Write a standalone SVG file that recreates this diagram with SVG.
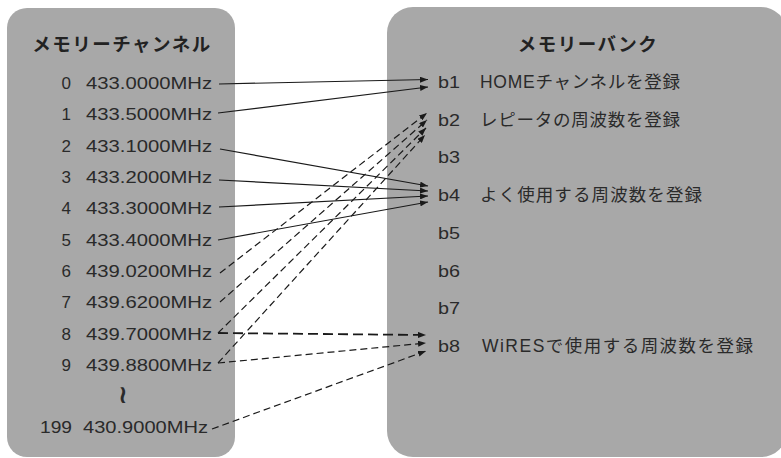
<svg xmlns="http://www.w3.org/2000/svg" width="781" height="458" viewBox="0 0 781 458">
<defs>
<style>
.panel{fill:#a8a8a8}
.title{font-family:"Liberation Sans","Noto Sans CJK JP",sans-serif;font-weight:bold;font-size:18.5px;fill:#222;letter-spacing:1.5px}
.t{font-family:"Liberation Sans","Noto Sans CJK JP",sans-serif;font-size:17px;fill:#2a2a2a}
.d{font-size:17.5px}
.num{text-anchor:end}
.ln{fill:none;stroke:#1a1a1a;stroke-width:1.2;marker-end:url(#ah)}
.ds{stroke-dasharray:7 4}
.dsb{stroke-dasharray:10 5;stroke-width:1.8}
</style>
<marker id="ah" markerUnits="userSpaceOnUse" markerWidth="9" markerHeight="6" refX="8" refY="3" orient="auto">
<path d="M0,0 L8,3 L0,6 z" fill="#1a1a1a"/>
</marker>
</defs>
<g id="channels">
<rect class="panel" x="7" y="8" width="228" height="449" rx="20" ry="20"/>
<text class="title" x="122" y="51" text-anchor="middle">メモリーチャンネル</text>
<g class="t">
<text class="num" x="71" y="89">0</text><text x="86" y="89" textLength="126" lengthAdjust="spacingAndGlyphs">433.0000MHz</text>
<text class="num" x="71" y="120.3">1</text><text x="86" y="120.3" textLength="126" lengthAdjust="spacingAndGlyphs">433.5000MHz</text>
<text class="num" x="71" y="151.7">2</text><text x="86" y="151.7" textLength="126" lengthAdjust="spacingAndGlyphs">433.1000MHz</text>
<text class="num" x="71" y="183">3</text><text x="86" y="183" textLength="126" lengthAdjust="spacingAndGlyphs">433.2000MHz</text>
<text class="num" x="71" y="214.3">4</text><text x="86" y="214.3" textLength="126" lengthAdjust="spacingAndGlyphs">433.3000MHz</text>
<text class="num" x="71" y="245.7">5</text><text x="86" y="245.7" textLength="126" lengthAdjust="spacingAndGlyphs">433.4000MHz</text>
<text class="num" x="71" y="277">6</text><text x="86" y="277" textLength="126" lengthAdjust="spacingAndGlyphs">439.0200MHz</text>
<text class="num" x="71" y="308.3">7</text><text x="86" y="308.3" textLength="126" lengthAdjust="spacingAndGlyphs">439.6200MHz</text>
<text class="num" x="71" y="339.7">8</text><text x="86" y="339.7" textLength="126" lengthAdjust="spacingAndGlyphs">439.7000MHz</text>
<text class="num" x="71" y="371">9</text><text x="86" y="371" textLength="126" lengthAdjust="spacingAndGlyphs">439.8800MHz</text>
<text x="123" y="403" text-anchor="middle" style="font-family:'DejaVu Sans',sans-serif;font-size:25px;font-weight:bold">≀</text>
<text x="40" y="433" textLength="32" lengthAdjust="spacingAndGlyphs">199</text><text x="83" y="433" textLength="125" lengthAdjust="spacingAndGlyphs">430.9000MHz</text>
</g>
</g>
<g id="banks">
<rect class="panel" x="387" y="7" width="400" height="450" rx="26" ry="26"/>
<text class="title" x="588" y="51" text-anchor="middle">メモリーバンク</text>
<g class="t">
<text x="438" y="88" textLength="22" lengthAdjust="spacingAndGlyphs">b1</text><text class="d" x="480" y="88" textLength="200" lengthAdjust="spacing">HOMEチャンネルを登録</text>
<text x="438" y="126" textLength="22" lengthAdjust="spacingAndGlyphs">b2</text><text class="d" x="480" y="126" textLength="200" lengthAdjust="spacing">レピータの周波数を登録</text>
<text x="438" y="163" textLength="22" lengthAdjust="spacingAndGlyphs">b3</text>
<text x="438" y="201" textLength="22" lengthAdjust="spacingAndGlyphs">b4</text><text class="d" x="480" y="201" textLength="222" lengthAdjust="spacing">よく使用する周波数を登録</text>
<text x="438" y="239" textLength="22" lengthAdjust="spacingAndGlyphs">b5</text>
<text x="438" y="277" textLength="22" lengthAdjust="spacingAndGlyphs">b6</text>
<text x="438" y="314" textLength="22" lengthAdjust="spacingAndGlyphs">b7</text>
<text x="438" y="352" textLength="22" lengthAdjust="spacingAndGlyphs">b8</text><text class="d" x="482" y="352" textLength="271" lengthAdjust="spacing">WiRESで使用する周波数を登録</text>
</g>
</g>
<g id="connectors">
<path class="ln" d="M219,84 L428,79.5"/>
<path class="ln" d="M218,113 L428,87"/>
<path class="ln" d="M220,149 L428,186"/>
<path class="ln" d="M219,180 L428,191"/>
<path class="ln" d="M219,207 L428,196"/>
<path class="ln" d="M218,240 L428,202"/>
<path class="ln ds" d="M220,273 L427,113"/>
<path class="ln ds" d="M220,302 L427,120"/>
<path class="ln ds" d="M218,333 L426,128"/>
<path class="ln ds" d="M218,363 L425,135"/>
<path class="ln dsb" d="M218,333 L426,335"/>
<path class="ln ds" d="M218,363 L426,343"/>
<path class="ln ds" d="M212,429 L426,351"/>
</g>
</svg>
